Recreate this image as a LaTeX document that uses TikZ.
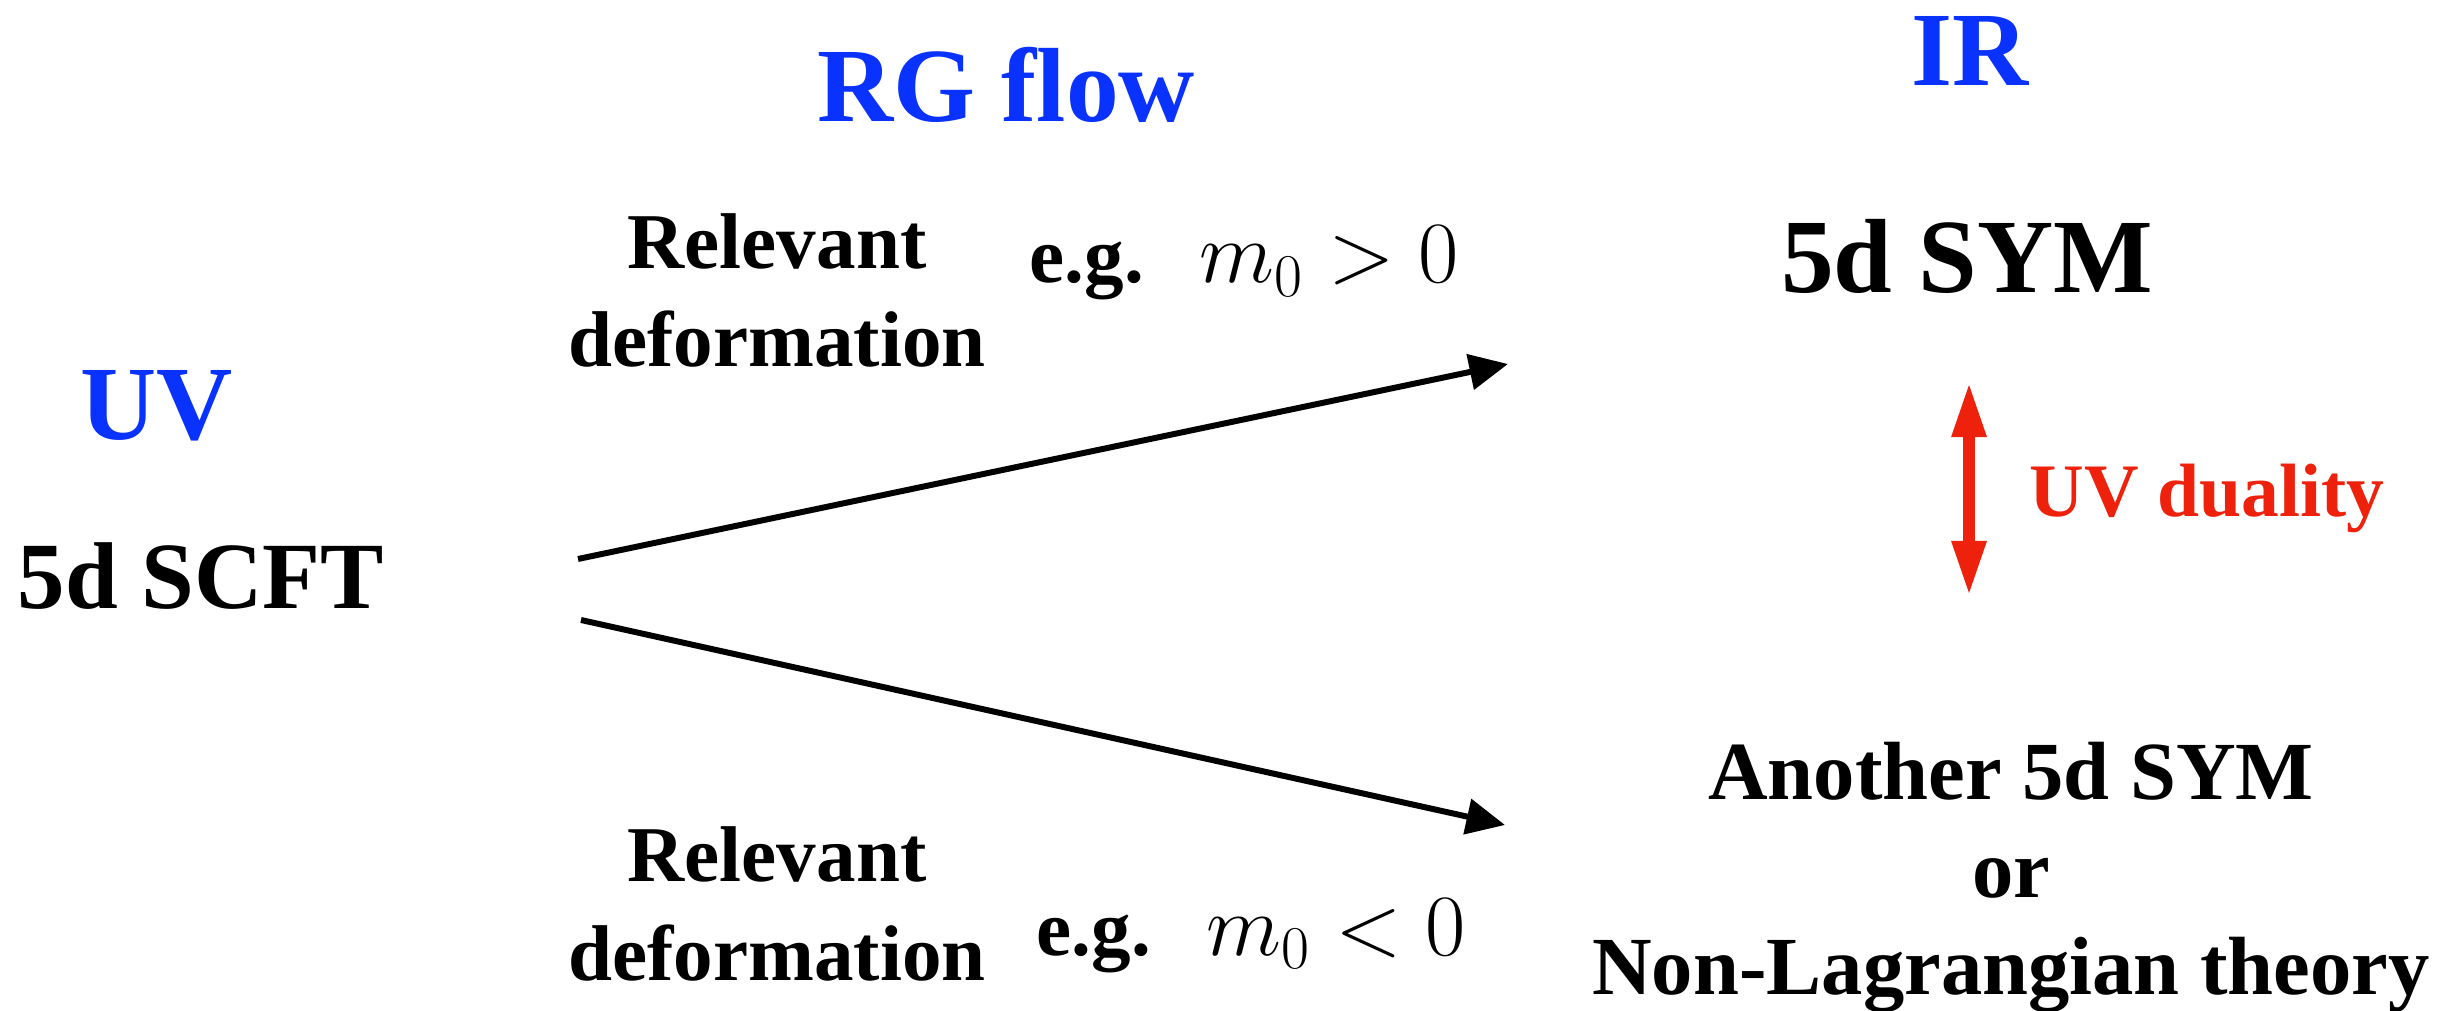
\documentclass[tikz,border=0pt]{standalone}
\usepackage{fontspec}
\setmainfont{Liberation Serif}
\usepackage{amsmath}
\usetikzlibrary{arrows.meta}
\definecolor{flowblue}{RGB}{10,50,255}
\definecolor{dualred}{RGB}{238,34,12}
\newcommand{\bigmath}[1]{{\fontsize{27}{30}\selectfont$#1$}}

\begin{document}
\begin{tikzpicture}[
    head/.style={font=\fontsize{30}{36}\selectfont\bfseries,text=flowblue,inner sep=0pt},
    theory/.style={font=\fontsize{30}{36}\selectfont\bfseries,inner sep=0pt},
    small/.style={font=\fontsize{22.5}{28}\selectfont\bfseries,inner sep=0pt,align=center},
    flow/.style={line width=1.7pt,-{Triangle[length=11pt,width=10pt]}},
    dual/.style={dualred,line width=3.6pt,{Triangle[length=16pt,width=9pt]}-{Triangle[length=16pt,width=9pt]}}]

\useasboundingbox (0,0) rectangle (24.63,10.10);

\node[head,anchor=base] (rg) at (10.06,8.88) {RG flow};
\node[head,anchor=base] (ir) at (19.70,9.24) {IR};
\node[head,anchor=base] (uv) at (1.57,5.70) {UV};

\node[theory,font=\fontsize{27}{32}\selectfont\bfseries,anchor=base] (scft) at (2.01,4.01) {5d SCFT};
\node[theory,anchor=base] (sym) at (19.67,7.17) {5d SYM};
\node[small,font=\fontsize{23.5}{27.6}\selectfont\bfseries,anchor=base] (other) at (20.11,0.16) {Another 5d SYM\\or\\Non-Lagrangian theory};

\node[small,anchor=base] (relup) at (7.77,6.43) {Relevant\\deformation};
\node[small,anchor=base] (reldown) at (7.77,0.30) {Relevant\\deformation};
\node[small,anchor=base west] (egup) at (10.29,7.27) {e.g.\hspace{0.7em}\bigmath{m_0>0}};
\node[small,anchor=base west] (egdown) at (10.36,0.55) {e.g.\hspace{0.7em}\bigmath{m_0<0}};

\coordinate (su) at (5.78,4.51);
\coordinate (tu) at (15.08,6.46);
\coordinate (sd) at (5.81,3.90);
\coordinate (td) at (15.05,1.85);

\draw[flow] (su) -- (tu);
\draw[flow] (sd) -- (td);

\coordinate (dtop) at (19.69,6.29);
\coordinate (dbot) at (19.69,4.13);
\draw[dual] (dbot) -- (dtop);
\node[small,font=\fontsize{21.5}{26}\selectfont\bfseries,text=dualred,anchor=base west] (duality) at (20.29,4.93) {UV duality};
\end{tikzpicture}
\end{document}
